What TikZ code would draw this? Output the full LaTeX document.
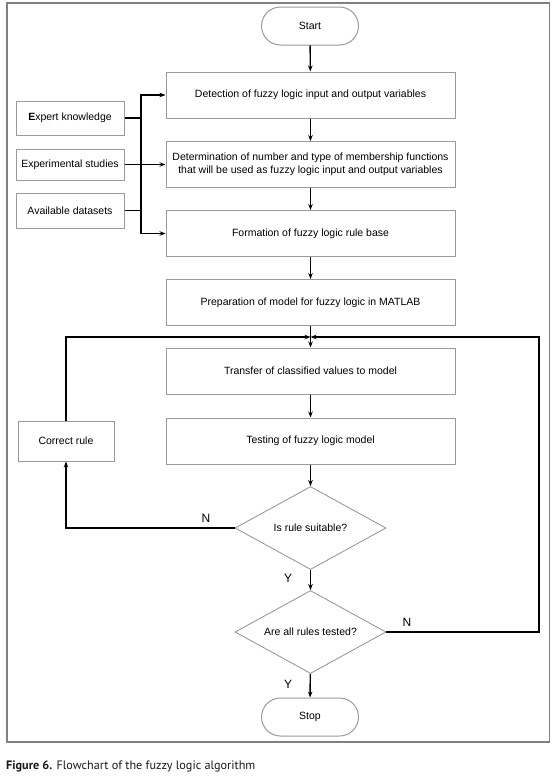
\documentclass[tikz,border=0pt]{standalone}
\usepackage{fontspec}
\setmainfont{Liberation Sans}
\newfontfamily\capfont{PT Sans}
\usetikzlibrary{shapes.geometric,arrows.meta}
\definecolor{boxgray}{HTML}{9A9A9A}
\definecolor{framegray}{HTML}{808080}
\begin{document}
\begin{tikzpicture}[x=1pt,y=-1pt,
  every node/.style={font=\fontsize{10.5}{12.6}\selectfont, inner sep=0pt, align=center},
  procbox/.style={draw=boxgray, line width=1pt, rectangle, minimum width=289pt, minimum height=46pt},
  srcbox/.style={draw=boxgray, line width=1pt, rectangle, minimum width=108pt, minimum height=34pt},
  term/.style={draw=boxgray, line width=1pt, rectangle, rounded corners=19pt, minimum width=97pt, minimum height=38pt},
  decision/.style={draw=boxgray, line width=0.9pt, diamond, aspect=1.82, minimum width=151pt, minimum height=83pt},
  conn/.style={line width=1.4pt, black},
  arr/.style={conn, -{Stealth[length=6pt,width=4.5pt]}},
  lbl/.style={font=\fontsize{12}{14}\selectfont}
]
\useasboundingbox (0,0) rectangle (552,779);
\draw[framegray, line width=1.6pt] (7,3) rectangle (549.5,742);

\node[term] (start) at (310,26) {Start};
\node[procbox] (b1) at (310.5,95) {Detection of fuzzy logic input and output variables};
\node[procbox] (b2) at (310.5,164.5) {Determination of number and type of membership functions\\that will be used as fuzzy logic input and output variables};
\node[procbox] (b3) at (310.5,233.5) {Formation of fuzzy logic rule base};
\node[procbox] (b4) at (310.5,302.5) {Preparation of model for fuzzy logic in MATLAB};
\node[procbox] (b5) at (310.5,371) {Transfer of classified values to model};
\node[procbox] (b6) at (310.5,441) {Testing of fuzzy logic model};
\node[decision] (d1) at (310.5,528) {Is rule suitable?};
\node[decision] (d2) at (310.5,632) {Are all rules tested?};
\node[term] (stop) at (310,717) {Stop};

\node[srcbox] (e1) at (70,118) {\textbf{E}xpert knowledge};
\node[srcbox, minimum height=31pt] (e2) at (70,164.5) {Experimental studies};
\node[srcbox, minimum height=35pt] (e3) at (70,210.5) {Available datasets};
\node[srcbox, minimum width=96pt, minimum height=40pt] (cr) at (66,441) {Correct rule};

\coordinate (bus) at (141,118);
\coordinate (m) at (310.5,337);
\coordinate (rc) at (539,337);

\draw[arr] (start) -- (b1);
\draw[arr] (b1) -- (b2);
\draw[arr] (b2) -- (b3);
\draw[arr] (b3) -- (b4);
\draw[arr] (b4) -- (b5);
\draw[arr] (b5) -- (b6);
\draw[arr] (b6) -- (d1);
\draw[arr] (d1) -- (d2);
\draw[arr] (d2) -- (stop);

\draw[conn] (e1.east) -- (bus);
\draw[arr] (bus) |- (b1.west);
\draw[arr] (bus) |- (b3.west);
\draw[conn] (e3.east) -- (e3.east -| bus);
\draw[arr] (e2.east) -- (b2.west);

\draw[arr] (d1.west) -| (cr.south);
\draw[arr] (cr.north) |- (m);
\draw[arr] (d2.east) -| (rc) -- (m);

\node[lbl] (n1) at (206,518) {N};
\node[lbl] (y1) at (288,578) {Y};
\node[lbl] (n2) at (407,622) {N};
\node[lbl] (y2) at (288,684) {Y};

\node[anchor=west, font=\capfont\fontsize{12.2}{14}\selectfont, color=black!90] (cap) at (6,766) {\textbf{Figure 6.} Flowchart of the fuzzy logic algorithm};
\end{tikzpicture}
\end{document}
